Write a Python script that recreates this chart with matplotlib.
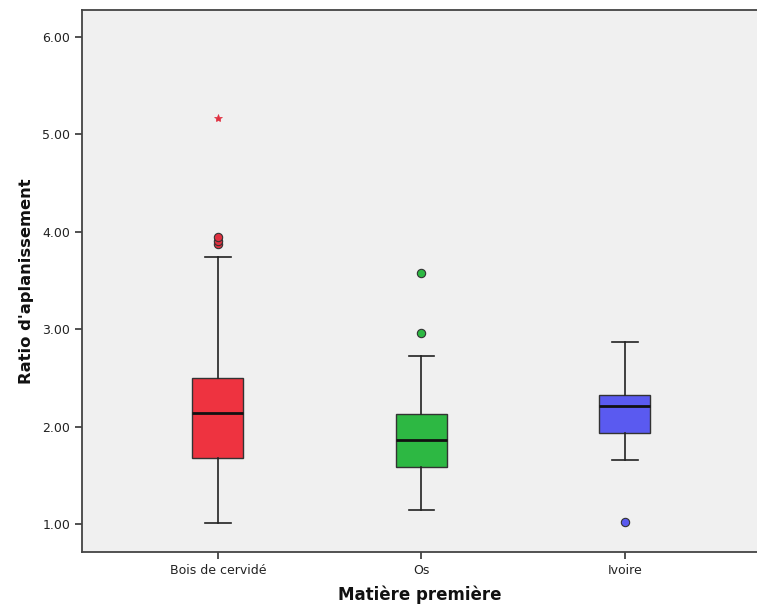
import matplotlib
matplotlib.use("Agg")
import matplotlib.pyplot as plt

categories = ["Bois de cervidé", "Os", "Ivoire"]
q1 = [1.677, 1.591, 1.940]
median = [2.138, 1.862, 2.213]
q3 = [2.504, 2.131, 2.323]
whisker_low = [1.010, 1.144, 1.656]
whisker_high = [3.745, 2.726, 2.867]
outliers = [[3.88, 3.91, 3.95], [2.965, 3.577], [1.024]]
extremes = [[5.167], [], []]
yticks = [1.0, 2.0, 3.0, 4.0, 5.0, 6.0]

box_colors = ["#EE3340", "#2DB843", "#5A5AF0"]
flier_colors = ["#E03040", "#2DB843", "#5A5AF0"]

fig = plt.figure(figsize=(7.57, 6.08), dpi=100)
ax = fig.add_axes([82/757, (608-552)/608, (757-82)/757, (552-10)/608])
ax.set_facecolor("#F0F0F0")

positions = list(range(1, len(categories) + 1))
stats = []
for i in range(len(categories)):
    stats.append(dict(med=median[i], q1=q1[i], q3=q3[i],
                      whislo=whisker_low[i], whishi=whisker_high[i],
                      fliers=[]))

bp = ax.bxp(stats, positions=positions, widths=0.25, capwidths=0.125,
            patch_artist=True, showfliers=False,
            boxprops=dict(edgecolor="#333333", linewidth=1.0),
            medianprops=dict(color="#111111", linewidth=2.0),
            whiskerprops=dict(color="#222222", linewidth=1.2),
            capprops=dict(color="#222222", linewidth=1.2))
for patch, c in zip(bp["boxes"], box_colors):
    patch.set_facecolor(c)

for i, pos in enumerate(positions):
    if outliers[i]:
        ax.plot([pos] * len(outliers[i]), outliers[i], linestyle="none",
                marker="o", markersize=6, markerfacecolor=flier_colors[i],
                markeredgecolor="#333333", markeredgewidth=0.8, zorder=3)
    if extremes[i]:
        ax.plot([pos] * len(extremes[i]), extremes[i], linestyle="none",
                marker="*", markersize=6, markerfacecolor=flier_colors[i],
                markeredgecolor=flier_colors[i], markeredgewidth=0.5, zorder=3)

ax.set_xlim(0.332, 3.649)
ax.set_ylim(0.716, 6.277)
ax.set_yticks(yticks)
ax.set_yticklabels([f"{v:.2f}" for v in yticks], fontsize=9, color="#222222")
ax.set_xticks(positions)
ax.set_xticklabels(categories, fontsize=9, color="#222222")
ax.tick_params(axis="both", length=5, width=1.2, color="#333333")

for side in ["left", "bottom", "top"]:
    ax.spines[side].set_color("#444444")
    ax.spines[side].set_linewidth(1.3)
ax.spines["right"].set_visible(False)

ax.set_ylabel("Ratio d'aplanissement", fontsize=11.8, fontweight="bold",
              color="#111111", labelpad=6)
ax.set_xlabel("Matière première", fontsize=12, fontweight="bold",
              color="#111111", labelpad=6)

fig.savefig("out.png", dpi=100, facecolor="white")
